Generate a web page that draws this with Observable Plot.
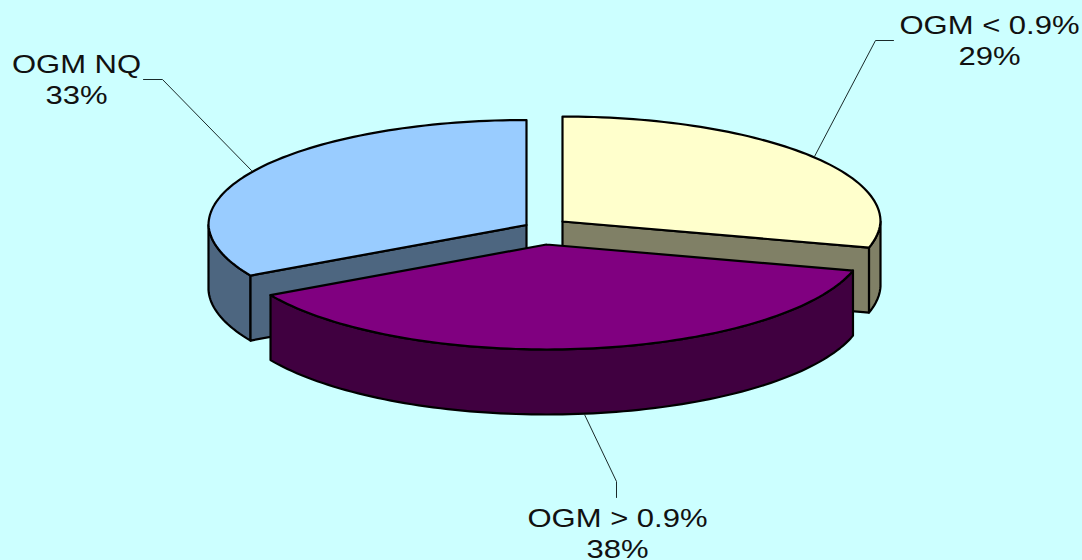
<!DOCTYPE html>
<html>
<head>
<meta charset="utf-8">
<script src="https://cdn.jsdelivr.net/npm/d3@7"></script>
<script src="https://cdn.jsdelivr.net/npm/@observablehq/plot@0.6"></script>
<style>
html,body{margin:0;padding:0;background:#CCFFFF;overflow:hidden}
svg{display:block}
</style>
</head>
<body>
<div id="chart"></div>
<script>
// Data (clockwise from 12 o'clock)
const labels = ["OGM < 0.9%", "OGM > 0.9%", "OGM NQ"];
const shares = [29, 38, 33];

// Styling
const topColors  = ["#FFFFCC", "#800080", "#99CCFF"];
const sideColors = ["#808066", "#400040", "#4D6680"];

// 3D layout of each exploded slice (centre of its top face), radii, depth, front narrowing
const centres = [[562, 221], [546, 244], [526, 224.5]];
const rx = 318, ry = 105, depth = 65, frontNarrow = 0.02;

// Layout of the labels and leader lines
const labelAt = [[989, 33], [617, 526], [76, 72]];
const lineStep = 31;
const leaderPaths = [
  [[814, 156], [875, 40], [893, 40]],
  [[584, 414], [616, 481], [616, 497]],
  [[251, 170], [162, 79], [143, 79]]
];

const total = d3.sum(shares);
const cum = d3.cumsum(shares);
const startAngle = i => (i === 0 ? 0 : cum[i - 1]) / total * 2 * Math.PI;
const endAngle = i => cum[i] / total * 2 * Math.PI;
const rim = (i, a, dy = 0) => {
  const c = Math.cos(a);
  const w = c < 0 ? 1 + frontNarrow * c : 1;
  return [centres[i][0] + rx * w * Math.sin(a), centres[i][1] - ry * c + dy];
};
const arc = (i, a0, a1, dy = 0) => {
  const n = Math.max(2, Math.ceil(Math.abs(a1 - a0) * 40));
  return d3.range(n + 1).map(k => rim(i, a0 + (a1 - a0) * k / n, dy));
};
const closed = pts => [...pts, pts[0]];

const polygon = (pts, fill) => Plot.line(closed(pts), {
  x: d => d[0], y: d => d[1], fill, stroke: "#000", strokeWidth: 2.2,
  strokeLinejoin: "round", curve: "linear"
});

const marks = [];

// Yellow slice: outer wall beyond the widest point, cut face, top
{
  const i = 0, a1 = endAngle(i), right = Math.PI / 2;
  marks.push(polygon([...arc(i, right, a1), ...arc(i, a1, right, depth)], sideColors[i]));
  marks.push(polygon([centres[i], rim(i, a1), rim(i, a1, depth), [centres[i][0], centres[i][1] + depth]], sideColors[i]));
  marks.push(polygon([centres[i], ...arc(i, startAngle(i), a1)], topColors[i]));
}
// Blue slice
{
  const i = 2, a0 = startAngle(i), left = 3 * Math.PI / 2;
  marks.push(polygon([...arc(i, a0, left), ...arc(i, left, a0, depth)], sideColors[i]));
  marks.push(polygon([centres[i], rim(i, a0), rim(i, a0, depth), [centres[i][0], centres[i][1] + depth]], sideColors[i]));
  marks.push(polygon([centres[i], ...arc(i, a0, endAngle(i))], topColors[i]));
}
// Purple slice, in front
{
  const i = 1, a0 = startAngle(i), a1 = endAngle(i);
  marks.push(polygon([...arc(i, a0, a1), ...arc(i, a1, a0, depth)], sideColors[i]));
  marks.push(polygon([centres[i], ...arc(i, a0, a1)], topColors[i]));
}

// Leader lines
leaderPaths.forEach(p => marks.push(Plot.line(p, {
  x: d => d[0], y: d => d[1], stroke: "#1a2a2a", strokeWidth: 1, curve: "linear"
})));

// Labels
const textRows = labels.flatMap((l, i) => [
  {t: l, x: labelAt[i][0], y: labelAt[i][1]},
  {t: shares[i] + "%", x: labelAt[i][0], y: labelAt[i][1] + lineStep}
]);
marks.push(Plot.text(textRows, {
  x: "x", y: "y", text: "t", textAnchor: "middle", lineAnchor: "bottom",
  fontSize: 26.5, fontFamily: "Liberation Sans", fill: "#111"
}));

const chart = Plot.plot({
  width: 1082, height: 560, margin: 0,
  x: {domain: [0, 1082], range: [0, 1082], axis: null},
  y: {domain: [0, 560], range: [0, 560], axis: null},
  style: {background: "#CCFFFF"},
  marks
});
document.getElementById("chart").append(chart);

// The original's text is stretched horizontally
chart.querySelectorAll("text").forEach(t => {
  t.setAttribute("textLength", t.getComputedTextLength() * 1.17);
  t.setAttribute("lengthAdjust", "spacingAndGlyphs");
});
</script>
</body>
</html>
